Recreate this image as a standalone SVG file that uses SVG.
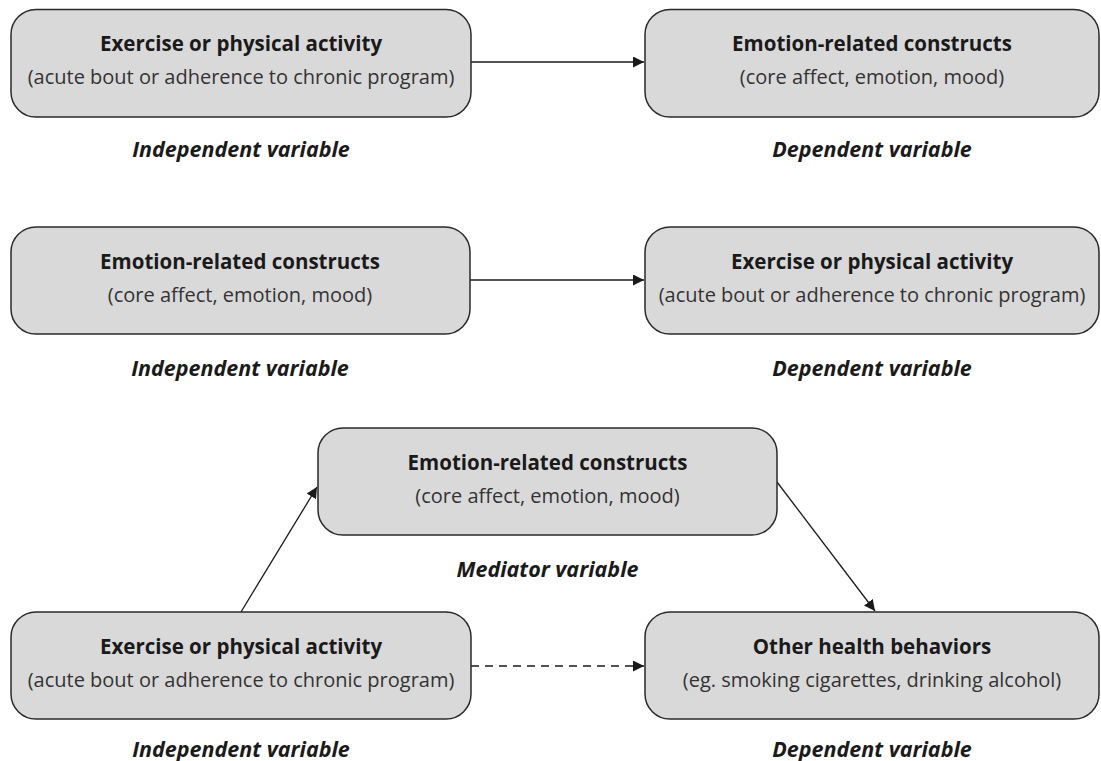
<svg xmlns="http://www.w3.org/2000/svg" width="1101" height="761" viewBox="0 0 1101 761">
<style>
.box{fill:#d9d9d9;stroke:#2a2a2a;stroke-width:1.5}
.t{font-family:"Open Sans","Noto Sans",sans-serif;font-size:20.5px;font-weight:bold;fill:#1a1a1a;text-anchor:middle}
.s{font-family:"Open Sans","Noto Sans",sans-serif;font-size:20px;fill:#333;text-anchor:middle}
.l{font-family:"Open Sans","Noto Sans",sans-serif;font-size:21.5px;font-weight:bold;font-style:italic;fill:#1a1a1a;text-anchor:middle}
.c{stroke:#1a1a1a;stroke-width:1.3;fill:none}
</style>
<defs>
<marker id="ah" viewBox="0 0 10 10" refX="10" refY="5" markerWidth="11" markerHeight="11" markerUnits="userSpaceOnUse" orient="auto"><path d="M0,0 L10,5 L0,10 z" fill="#1a1a1a"/></marker>
</defs>
<rect width="1101" height="761" fill="#fff"/>
<g id="connectors">
<line class="c" x1="471" y1="62" x2="644" y2="62" marker-end="url(#ah)"/>
<line class="c" x1="470" y1="280" x2="644" y2="280" marker-end="url(#ah)"/>
<line class="c" x1="241" y1="612" x2="317" y2="487" marker-end="url(#ah)"/>
<line class="c" x1="777" y1="482" x2="875" y2="611" marker-end="url(#ah)"/>
<line class="c" x1="471" y1="666" x2="644" y2="666" stroke-dasharray="8,6" marker-end="url(#ah)"/>
</g>
<g id="n1">
<rect class="box" x="11" y="9.5" width="460" height="107.5" rx="25"/>
<text class="t" x="241" y="51">Exercise or physical activity</text>
<text class="s" x="241" y="84">(acute bout or adherence to chronic program)</text>
<text class="l" x="241" y="157">Independent variable</text>
</g>
<g id="n2">
<rect class="box" x="645" y="9.5" width="454" height="107.5" rx="25"/>
<text class="t" x="872" y="51">Emotion-related constructs</text>
<text class="s" x="872" y="84">(core affect, emotion, mood)</text>
<text class="l" x="872" y="157">Dependent variable</text>
</g>
<g id="n3">
<rect class="box" x="11" y="227" width="459" height="107" rx="25"/>
<text class="t" x="240" y="269">Emotion-related constructs</text>
<text class="s" x="240" y="302">(core affect, emotion, mood)</text>
<text class="l" x="240" y="376">Independent variable</text>
</g>
<g id="n4">
<rect class="box" x="645" y="227" width="454" height="107" rx="25"/>
<text class="t" x="872" y="269">Exercise or physical activity</text>
<text class="s" x="872" y="302">(acute bout or adherence to chronic program)</text>
<text class="l" x="872" y="376">Dependent variable</text>
</g>
<g id="n5">
<rect class="box" x="318" y="428" width="459" height="107" rx="25"/>
<text class="t" x="547.5" y="470">Emotion-related constructs</text>
<text class="s" x="547.5" y="503">(core affect, emotion, mood)</text>
<text class="l" x="547.5" y="577">Mediator variable</text>
</g>
<g id="n6">
<rect class="box" x="11" y="612" width="460" height="107" rx="25"/>
<text class="t" x="241" y="654">Exercise or physical activity</text>
<text class="s" x="241" y="687">(acute bout or adherence to chronic program)</text>
<text class="l" x="241" y="757">Independent variable</text>
</g>
<g id="n7">
<rect class="box" x="645" y="612" width="454" height="107" rx="25"/>
<text class="t" x="872" y="654">Other health behaviors</text>
<text class="s" x="872" y="687">(eg. smoking cigarettes, drinking alcohol)</text>
<text class="l" x="872" y="757">Dependent variable</text>
</g>
</svg>
